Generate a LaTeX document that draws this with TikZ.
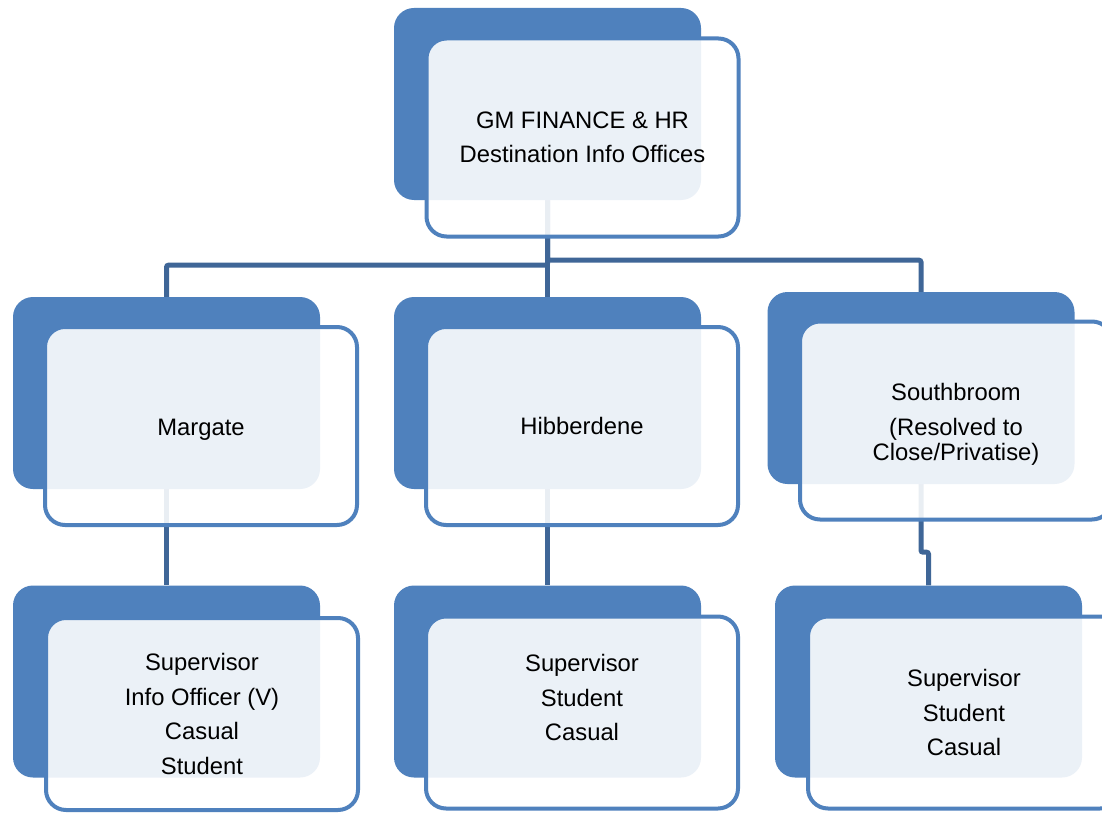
\documentclass[tikz,border=0pt]{standalone}
\usepackage{fontspec}
\setmainfont{Liberation Sans}
\usetikzlibrary{backgrounds}

\definecolor{accent}{HTML}{4F81BD}
\definecolor{linkblue}{HTML}{3F6697}

\tikzset{
  backbox/.style={rectangle, rounded corners=20pt, fill=accent,
    minimum width=307pt, minimum height=192pt, inner sep=0pt},
  frontbox/.style={rectangle, rounded corners=20pt, draw=accent, line width=4pt,
    fill=white, fill opacity=0.89, text opacity=1, text=black,
    minimum width=312pt, minimum height=198pt, inner sep=0pt, align=center,
    font=\fontsize{23.8}{34.5}\selectfont},
  lowbox/.style={frontbox, minimum height=192pt},
  conn/.style={draw=linkblue, line width=5pt, rounded corners=2pt}
}

\begin{document}
\begin{tikzpicture}[x=1pt, y=-1pt]
\useasboundingbox (0,0) rectangle (1102,813);
\clip (0,0) rectangle (1102,813);

% top level
\node[backbox]  (topB) at (547.5,104) {};
\node[frontbox] (topF) at (582.5,137.5) {GM FINANCE \& HR\\Destination Info Offices};

% offices
\node[backbox]  (marB) at (166.5,393) {};
\node[frontbox] (marF) at (201,426) {\rule{0pt}{23.3pt}Margate};

\node[backbox]  (hibB) at (547.5,393) {};
\node[frontbox] (hibF) at (582,426) {Hibberdene};

\node[backbox]  (sbB) at (921,388) {};
\node[frontbox] (sbF) at (956,420.5) {\rule{0pt}{25pt}Southbroom\\(Resolved to\\[-9.5pt]Close/Privatise)};

% staff
\node[backbox] (marcB) at (166.5,681.5) {};
\node[lowbox]  (marcF) at (202,714) {Supervisor\\Info Officer (V)\\Casual\\Student};

\node[backbox] (hibcB) at (547.5,681.5) {};
\node[lowbox]  (hibcF) at (582,712.5) {Supervisor\\Student\\Casual\\[-4.5pt]\mbox{}};

\node[backbox] (sbcB) at (928.5,681.5) {};
\node[lowbox]  (sbcF) at (964,712.5) {Supervisor\\Student\\Casual};

% connectors behind the boxes
\begin{pgfonlayer}{background}
  \fill[white] (0,0) rectangle (1102,813);
  \draw[conn] (topB.south) -- (hibB.north);
  \draw[conn] (topB.south) -- ++(0,65) -| (marB.north);
  \draw[conn] (topB.south) -- ++(0,60) -| (sbB.north);
  \draw[conn] (marB.south) -- (marcB.north);
  \draw[conn] (hibB.south) -- (hibcB.north);
  \draw[conn] (sbB.south) -- ++(0,68) -| (sbcB.north);
\end{pgfonlayer}
\end{tikzpicture}
\end{document}
